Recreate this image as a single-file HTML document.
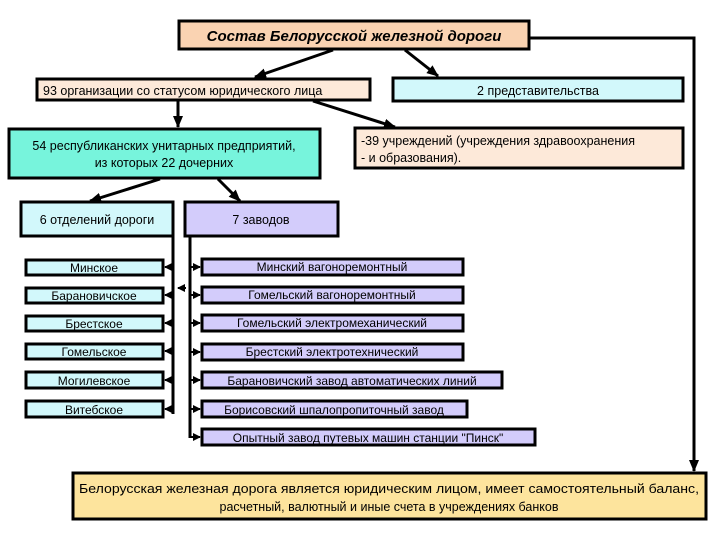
<!DOCTYPE html>
<html><head><meta charset="utf-8"><style>
html,body{margin:0;padding:0;background:#fff}
svg{display:block}
text{font-family:"Liberation Sans",sans-serif;fill:#000}
</style></head><body>
<svg width="720" height="540" viewBox="0 0 720 540" xmlns="http://www.w3.org/2000/svg">
<defs>
<marker id="a" markerWidth="8" markerHeight="8" refX="7" refY="4" orient="auto" markerUnits="userSpaceOnUse"><path d="M0,0 L8,4 L0,8 z" fill="#000"/></marker>
<marker id="b" markerWidth="12" markerHeight="10" refX="11" refY="5" orient="auto" markerUnits="userSpaceOnUse"><path d="M0,0 L12,5 L0,10 z" fill="#000"/></marker>
</defs>
<g stroke="#000" stroke-width="3">
<rect x="179" y="21" width="350" height="28" fill="#fad3b2"/>
<rect x="37" y="79" width="333" height="21" fill="#fde9d9"/>
<rect x="393" y="78" width="290" height="23" fill="#d2f8fb"/>
<rect x="9" y="129" width="311" height="49" fill="#77f4dc"/>
<rect x="355" y="128" width="328" height="40" fill="#fde9d9"/>
<rect x="21" y="202" width="152" height="34" fill="#d2f8fb"/>
<rect x="185" y="202" width="153" height="34" fill="#d3ccfb"/>
<g fill="#d2f8fb">
<rect x="26" y="260" width="137" height="15"/>
<rect x="26" y="288" width="137" height="15"/>
<rect x="26" y="316" width="137" height="15"/>
<rect x="26" y="344" width="137" height="15"/>
<rect x="26" y="372" width="137" height="16"/>
<rect x="26" y="401" width="137" height="16"/>
</g>
<g fill="#d3ccfb">
<rect x="202" y="259" width="261" height="16"/>
<rect x="202" y="287" width="261" height="16"/>
<rect x="202" y="315" width="261" height="16"/>
<rect x="202" y="344" width="261" height="16"/>
<rect x="202" y="372" width="300" height="16"/>
<rect x="202" y="401" width="265" height="16"/>
<rect x="202" y="429" width="333" height="16"/>
</g>
<rect x="73" y="473" width="633" height="46" fill="#fde49d"/>
</g>
<g stroke="#000" stroke-width="3" fill="none">
<line x1="333" y1="50" x2="255" y2="77" marker-end="url(#b)"/>
<line x1="405" y1="50" x2="438" y2="76" marker-end="url(#b)"/>
<line x1="178" y1="101" x2="178" y2="127" marker-end="url(#b)"/>
<line x1="313" y1="101" x2="395" y2="127" marker-end="url(#b)"/>
<line x1="160" y1="179" x2="90" y2="201" marker-end="url(#b)"/>
<line x1="218" y1="179" x2="240" y2="201" marker-end="url(#b)"/>
<polyline points="530,38 694,38 694,471" marker-end="url(#b)"/>
<line x1="173" y1="236" x2="173" y2="414"/>
<line x1="190" y1="236" x2="190" y2="438"/>
</g>
<g stroke="#000" stroke-width="2" fill="none">
<line x1="173" y1="267" x2="165" y2="267" marker-end="url(#a)"/>
<line x1="173" y1="295" x2="165" y2="295" marker-end="url(#a)"/>
<line x1="173" y1="323" x2="165" y2="323" marker-end="url(#a)"/>
<line x1="173" y1="351" x2="165" y2="351" marker-end="url(#a)"/>
<line x1="173" y1="380" x2="165" y2="380" marker-end="url(#a)"/>
<line x1="173" y1="409" x2="165" y2="409" marker-end="url(#a)"/>
<line x1="190" y1="267" x2="200" y2="267" marker-end="url(#a)"/>
<line x1="190" y1="295" x2="200" y2="295" marker-end="url(#a)"/>
<line x1="190" y1="323" x2="200" y2="323" marker-end="url(#a)"/>
<line x1="190" y1="352" x2="200" y2="352" marker-end="url(#a)"/>
<line x1="190" y1="380" x2="200" y2="380" marker-end="url(#a)"/>
<line x1="190" y1="409" x2="200" y2="409" marker-end="url(#a)"/>
<line x1="190" y1="437" x2="200" y2="437" marker-end="url(#a)"/>
<line x1="186" y1="288" x2="178" y2="288" marker-end="url(#a)"/>
</g>
<text x="354" y="41" font-size="15" font-weight="bold" font-style="italic" text-anchor="middle">Состав  Белорусской железной дороги</text>
<text x="43" y="95" font-size="12.5">93 организации со статусом юридического лица</text>
<text x="538" y="95" font-size="12.5" text-anchor="middle">2 представительства</text>
<text x="164" y="150" font-size="12.5" text-anchor="middle">54 республиканских унитарных предприятий,</text>
<text x="164" y="167" font-size="12.5" text-anchor="middle">из которых 22 дочерних</text>
<text x="361" y="145" font-size="12.5">-39 учреждений (учреждения здравоохранения</text>
<text x="361" y="162" font-size="12.5">- и образования).</text>
<text x="97" y="224" font-size="12.5" text-anchor="middle">6 отделений дороги</text>
<text x="261" y="224" font-size="12.5" text-anchor="middle">7 заводов</text>
<g font-size="12" text-anchor="middle">
<text x="94" y="272">Минское</text>
<text x="94" y="300">Барановичское</text>
<text x="94" y="328">Брестское</text>
<text x="94" y="356">Гомельское</text>
<text x="94" y="385">Могилевское</text>
<text x="94" y="414">Витебское</text>
<text x="332" y="271">Минский вагоноремонтный</text>
<text x="332" y="299">Гомельский вагоноремонтный</text>
<text x="332" y="327">Гомельский электромеханический</text>
<text x="332" y="356">Брестский электротехнический</text>
<text x="352" y="385">Барановичский завод автоматических линий</text>
<text x="334" y="414">Борисовский шпалопропиточный завод</text>
<text x="368" y="442">Опытный завод путевых машин станции "Пинск"</text>
</g>
<text x="389" y="493" font-size="12.5" text-anchor="middle" textLength="620" lengthAdjust="spacingAndGlyphs">Белорусская железная дорога является юридическим лицом, имеет самостоятельный баланс,</text>
<text x="389" y="511" font-size="12.5" text-anchor="middle">расчетный, валютный и иные счета в учреждениях банков</text>
</svg>
</body></html>
